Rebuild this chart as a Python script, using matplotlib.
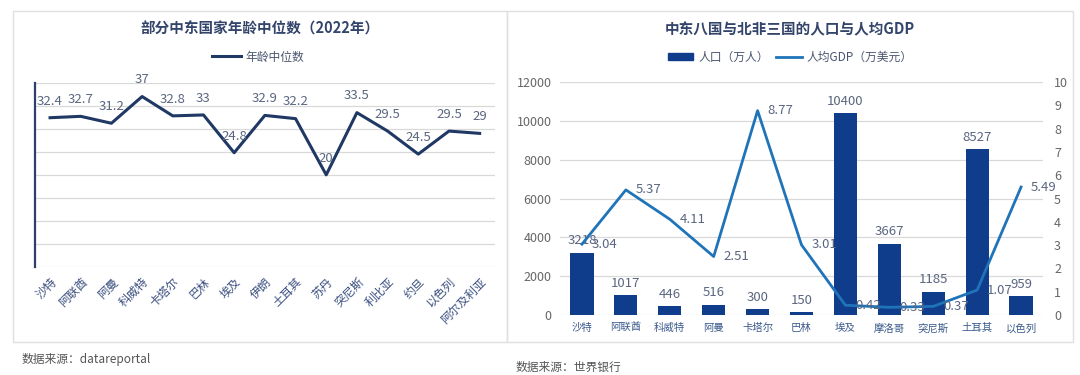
import numpy as np
import matplotlib
matplotlib.use('Agg')
import matplotlib.pyplot as plt
import matplotlib.patches as mpatches
from matplotlib.lines import Line2D

plt.rcParams['font.family'] = ['Noto Sans CJK SC', 'DejaVu Sans']

# left chart data
age_countries = ['沙特', '阿联酋', '阿曼', '科威特', '卡塔尔', '巴林', '埃及', '伊朗', '土耳其',
                 '苏丹', '突尼斯', '利比亚', '约旦', '以色列', '阿尔及利亚']
age_median = [32.4, 32.7, 31.2, 37, 32.8, 33, 24.8, 32.9, 32.2, 20, 33.5, 29.5, 24.5, 29.5, 29]

# right chart data
pop_countries = ['沙特', '阿联酋', '科威特', '阿曼', '卡塔尔', '巴林', '埃及', '摩洛哥', '突尼斯', '土耳其', '以色列']
population = [3218, 1017, 446, 516, 300, 150, 10400, 3667, 1185, 8527, 959]
gdp_per_cap = [3.04, 5.37, 4.11, 2.51, 8.77, 3.01, 0.42, 0.33, 0.37, 1.07, 5.49]

navy = '#1f3864'
bar_col = '#103c8c'
line_col = '#1f74b9'
label_col = '#5a6680'
grid_col = '#d9d9d9'
tick_col = '#666666'

fig = plt.figure(figsize=(10.8, 3.75), dpi=100)
W, H = 1080.0, 375.0

# panel frames
for x0, x1 in [(13, 507), (507, 1073)]:
    fig.patches.append(mpatches.Rectangle((x0 / W, 1 - 342 / H), (x1 - x0) / W, (342 - 11) / H,
                                          transform=fig.transFigure, fill=False,
                                          edgecolor='#e0e0e0', linewidth=1.0))

# ---------------- left chart ----------------
ax = fig.add_axes([34.7 / W, 1 - 267 / H, (495 - 34.7) / W, (267 - 82.7) / H])
x = np.arange(len(age_countries))
ax.plot(x, age_median, color=navy, linewidth=2.2, zorder=3)
for i, v in enumerate(age_median):
    ax.annotate('%g' % v, (i, v), xytext=(0, 12), textcoords='offset points',
                ha='center', va='center', fontsize=9.5, color=label_col)
ax.set_xlim(-0.5, len(age_countries) - 0.5)
ax.set_ylim(0, 40)
ax.set_yticks(np.arange(0, 41, 5))
ax.set_yticklabels([])
ax.grid(axis='y', color=grid_col, linewidth=0.9)
ax.set_axisbelow(True)
for s in ['top', 'right', 'bottom']:
    ax.spines[s].set_visible(False)
ax.spines['left'].set_color('#2e3f6e')
ax.spines['left'].set_linewidth(1.6)
ax.tick_params(length=0)
ax.set_xticks(x)
ax.set_xticklabels(age_countries, rotation=45, ha='right', rotation_mode='anchor',
                   fontsize=8.5, color='#3b5080')
ax.tick_params(axis='x', pad=6)

fig.text(260 / W, 1 - 29 / H, '部分中东国家年龄中位数（2022年）', ha='center', va='center',
         fontsize=10.5, fontweight='bold', color='#34456b')
fig.legend(handles=[Line2D([0], [0], color=navy, linewidth=2.2)], labels=['年龄中位数'],
           loc='center', bbox_to_anchor=(258 / W, 1 - 57 / H), frameon=False,
           fontsize=8.5, labelcolor='#4a5670', handlelength=2.5, handletextpad=0.4)

# ---------------- right chart ----------------
ax1 = fig.add_axes([560 / W, 1 - 315 / H, 483 / W, 233 / H])
xr = np.arange(len(pop_countries))
bars = ax1.bar(xr, population, width=0.53, color=bar_col, zorder=2)
for i, v in enumerate(population):
    ax1.annotate('%d' % v, (i, v), xytext=(0, 4), textcoords='offset points',
                 ha='center', va='bottom', fontsize=9.5, color=label_col)
ax1.set_xlim(-0.5, len(pop_countries) - 0.5)
ax1.set_ylim(0, 12000)
ax1.set_yticks(np.arange(0, 12001, 2000))
ax1.grid(axis='y', color=grid_col, linewidth=0.9)
ax1.set_axisbelow(True)
for s in ax1.spines.values():
    s.set_visible(False)
ax1.tick_params(length=0)
ax1.tick_params(axis='y', labelsize=9, labelcolor=tick_col, pad=6)
ax1.set_xticks(xr)
ax1.set_xticklabels(pop_countries, fontsize=7.5, color='#3b5a8c')
ax1.tick_params(axis='x', pad=6)

ax2 = ax1.twinx()
ax2.plot(xr, gdp_per_cap, color=line_col, linewidth=2.0, zorder=3)
for i, v in enumerate(gdp_per_cap):
    ax2.annotate('%g' % v, (i, v), xytext=(7, 0), textcoords='offset points',
                 ha='left', va='center', fontsize=9.5, color=label_col)
ax2.set_ylim(0, 10)
ax2.set_yticks(np.arange(0, 11, 1))
for s in ax2.spines.values():
    s.set_visible(False)
ax2.tick_params(length=0, labelsize=9, labelcolor=tick_col, pad=8)

fig.text(790 / W, 1 - 29 / H, '中东八国与北非三国的人口与人均GDP', ha='center', va='center',
         fontsize=10.5, fontweight='bold', color='#34456b')
fig.legend(handles=[mpatches.Patch(color=bar_col), Line2D([0], [0], color=line_col, linewidth=2.0)],
           labels=['人口（万人）', '人均GDP（万美元）'], ncol=2,
           loc='center', bbox_to_anchor=(790 / W, 1 - 57 / H), frameon=False,
           fontsize=8.5, labelcolor='#4a5670', handlelength=2.2, handleheight=0.6,
           handletextpad=0.4, columnspacing=0.6)

# sources
fig.text(22 / W, 1 - 360 / H, '数据来源：datareportal', ha='left', va='center',
         fontsize=8.5, color='#555555')
fig.text(516 / W, 1 - 367 / H, '数据来源：世界银行', ha='left', va='center',
         fontsize=8.5, color='#555555')

fig.savefig('out.png', dpi=100)
